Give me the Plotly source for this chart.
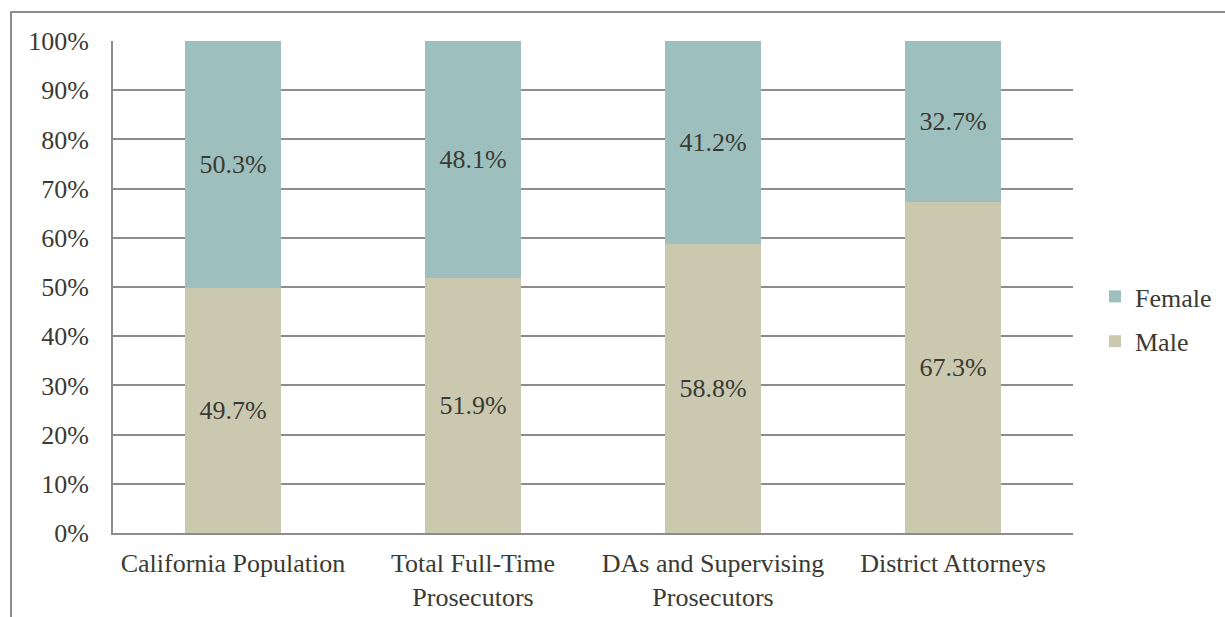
import plotly.graph_objects as go

categories = ["California Population", "Total Full-Time<br>Prosecutors",
              "DAs and Supervising<br>Prosecutors", "District Attorneys"]
male = [49.7, 51.9, 58.8, 67.3]
female = [50.3, 48.1, 41.2, 32.7]
y_ticks = [0, 10, 20, 30, 40, 50, 60, 70, 80, 90, 100]

text_color = "#3b3a32"
font_family = "Liberation Serif, Times New Roman, serif"
fsize = 26

fig = go.Figure()
fig.add_trace(go.Bar(
    x=categories, y=male, name="Male", legendgroup="m", legendrank=2,
    marker=dict(color="#cbc8b0", line=dict(width=0)),
    text=[f"{v:.1f}%" for v in male], textposition="inside",
    insidetextanchor="middle", textfont=dict(color=text_color, size=fsize),
))
fig.add_trace(go.Bar(
    x=categories, y=female, name="Female", legendgroup="f", legendrank=1,
    marker=dict(color="#9dbfbd", line=dict(width=0)),
    text=[f"{v:.1f}%" for v in female], textposition="inside",
    insidetextanchor="middle", textfont=dict(color=text_color, size=fsize),
))

fig.update_layout(
    barmode="stack",
    bargap=0.6,
    width=1225, height=617,
    margin=dict(l=113, r=152, t=41, b=84),
    plot_bgcolor="white", paper_bgcolor="white",
    font=dict(family=font_family, size=fsize, color=text_color),
    uniformtext=dict(mode="show", minsize=fsize),
    legend=dict(xref="container", yref="container", x=1095 / 1225, y=0.483,
                xanchor="left", yanchor="middle",
                traceorder="grouped", tracegroupgap=8,
                font=dict(size=fsize)),
    shapes=[dict(type="rect", xref="paper", yref="paper",
                 x0=(11 - 113) / 960, x1=1.3, y0=-0.5, y1=1 + (41 - 12) / 492,
                 line=dict(color="#8c8c8c", width=2), layer="below")],
)
fig.update_xaxes(showline=True, linecolor="#8c8c8c", linewidth=2, automargin=False,
                 ticks="", ticklabelstandoff=6, tickfont=dict(size=fsize))
fig.update_yaxes(range=[0, 100], tickvals=y_ticks,
                 ticktext=[f"{v}%" for v in y_ticks], automargin=False,
                 showgrid=True, gridcolor="#8c8c8c", gridwidth=1.5,
                 showline=True, linecolor="#8c8c8c", linewidth=2,
                 zeroline=False, ticks="", ticklabelstandoff=17,
                 tickfont=dict(size=fsize))

fig.write_html("out.html", config={"displayModeBar": False},
               post_script="document.body.style.margin='0';")
